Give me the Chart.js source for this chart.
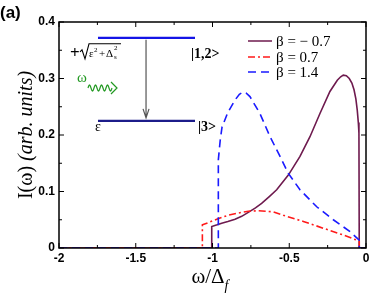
<!DOCTYPE html>
<html>
<head>
<meta charset="utf-8">
<script src="https://cdn.jsdelivr.net/npm/chart.js@4.4.0/dist/chart.umd.min.js"></script>
<style>
  html, body { margin: 0; padding: 0; background: #fff; }
  #wrap { width: 388px; height: 293px; }
</style>
</head>
<body>
<div id="wrap"><canvas id="spectrum" width="388" height="293"></canvas></div>
<script>
// beta = -0.7
const purpleX = [-2, -1.005, -1.005, -0.97, -0.94, -0.90, -0.853, -0.81, -0.767, -0.72, -0.68, -0.63, -0.582, -0.506, -0.43, -0.365, -0.30, -0.235, -0.187, -0.165, -0.148, -0.128, -0.109, -0.092, -0.078, -0.066, -0.057, -0.050, -0.046, -0.044, 0];
const purpleY = [0, 0, 0.038, 0.041, 0.044, 0.047, 0.051, 0.056, 0.063, 0.071, 0.079, 0.091, 0.103, 0.129, 0.162, 0.197, 0.238, 0.277, 0.297, 0.303, 0.306, 0.305, 0.300, 0.292, 0.280, 0.264, 0.244, 0.222, 0.203, 0, 0];
// beta = 0.7
const redX = [-2, -1.066, -1.066, -1.027, -0.96, -0.897, -0.83, -0.767, -0.70, -0.604, -0.539, -0.408, -0.278, -0.148, -0.061, -0.044, -0.044, 0];
const redY = [0, 0, 0.041, 0.045, 0.052, 0.058, 0.062, 0.065, 0.066, 0.064, 0.058, 0.047, 0.035, 0.023, 0.014, 0.012, 0, 0];
// beta = 1.4
const blueX = [-2, -0.962, -0.962, -0.95, -0.938, -0.90, -0.853, -0.825, -0.80, -0.78, -0.756, -0.691, -0.625, -0.560, -0.506, -0.43, -0.321, -0.213, -0.104, -0.044, -0.044, 0];
const blueY = [0, 0, 0.156, 0.190, 0.214, 0.240, 0.262, 0.272, 0.276, 0.274, 0.268, 0.238, 0.197, 0.162, 0.132, 0.103, 0.073, 0.050, 0.029, 0.014, 0, 0];

const seriesLabels = ['\u03b2 = \u2212 0.7', '\u03b2 = 0.7', '\u03b2 = 1.4'];
const xTicks = [-2, -1.5, -1, -0.5, 0];
const yTicks = [0, 0.1, 0.2, 0.3, 0.4];

const serif = '"Liberation Serif", "Times New Roman", serif';
const sans = '"Liberation Sans", Arial, sans-serif';

function toPoints(xs, ys) {
    return xs.map(function (x, i) { return { x: x, y: ys[i] }; });
}

const styles = [
    { color: '#6e1a4e', dash: [] },
    { color: '#ff1a1a', dash: [7, 3, 2, 3] },
    { color: '#1a1aff', dash: [8, 5] }
];

const decorations = {
    id: 'decorations',
    afterDraw: function (chart) {
        const ctx = chart.ctx;
        const a = chart.chartArea;
        const xs = chart.scales.x;
        const ys = chart.scales.y;
        ctx.save();

        // frame
        ctx.strokeStyle = '#000';
        ctx.lineWidth = 1.5;
        ctx.setLineDash([]);
        ctx.strokeRect(a.left, a.top, a.right - a.left, a.bottom - a.top);

        // inward ticks on all sides
        ctx.lineWidth = 1;
        ctx.beginPath();
        for (let v = -2; v <= 0.001; v += 0.25) {
            const px = xs.getPixelForValue(v);
            const len = Math.abs(v * 2 - Math.round(v * 2)) < 0.01 ? 5 : 3;
            ctx.moveTo(px, a.bottom); ctx.lineTo(px, a.bottom - len);
            ctx.moveTo(px, a.top); ctx.lineTo(px, a.top + len);
        }
        for (let i = 0; i <= 8; i++) {
            const py = ys.getPixelForValue(i * 0.05);
            const len = i % 2 === 0 ? 5 : 3;
            ctx.moveTo(a.left, py); ctx.lineTo(a.left + len, py);
            ctx.moveTo(a.right, py); ctx.lineTo(a.right - len, py);
        }
        ctx.stroke();

        // (a)
        ctx.fillStyle = '#000';
        ctx.font = 'bold 17px ' + sans;
        ctx.textBaseline = 'alphabetic';
        ctx.textAlign = 'left';
        ctx.fillText('(a)', 0, 18);

        // y title
        ctx.save();
        ctx.translate(32, 135);
        ctx.rotate(-Math.PI / 2);
        ctx.font = '20px ' + serif;
        const p1 = 'I(\u03c9) ';
        const w1 = ctx.measureText(p1).width;
        ctx.font = 'italic 20px ' + serif;
        const p2 = '(arb. units)';
        const w2 = ctx.measureText(p2).width;
        const sx = -(w1 + w2) / 2;
        ctx.font = '20px ' + serif;
        ctx.fillText(p1, sx, 0);
        ctx.font = 'italic 20px ' + serif;
        ctx.fillText(p2, sx + w1, 0);
        ctx.restore();

        // x title
        ctx.font = '21px ' + serif;
        const t1 = '\u03c9/\u0394';
        const tw = ctx.measureText(t1).width;
        const tx = 211 - (tw + 6) / 2;
        ctx.fillText(t1, tx, 283);
        ctx.font = 'italic 14px ' + serif;
        ctx.fillText('f', tx + tw, 290);

        // legend
        const legendX = 248;
        const legendY = [41, 57, 72];
        for (let i = 0; i < 3; i++) {
            ctx.strokeStyle = styles[i].color;
            ctx.lineWidth = 1.5;
            ctx.setLineDash(styles[i].dash);
            ctx.beginPath();
            ctx.moveTo(legendX, legendY[i]);
            ctx.lineTo(legendX + 24, legendY[i]);
            ctx.stroke();
            ctx.setLineDash([]);
            ctx.fillStyle = '#000';
            ctx.font = '15px ' + serif;
            ctx.textBaseline = 'middle';
            ctx.fillText(seriesLabels[i], legendX + 28, legendY[i] + 1);
        }
        ctx.textBaseline = 'alphabetic';

        // level scheme inset
        const lx1 = xs.getPixelForValue(-1.746);
        const lx2 = xs.getPixelForValue(-1.114);
        const upY = ys.getPixelForValue(0.372);
        const lowY = ys.getPixelForValue(0.225);
        ctx.lineWidth = 2.2;
        ctx.strokeStyle = '#1414e6';
        ctx.beginPath(); ctx.moveTo(lx1, upY); ctx.lineTo(lx2, upY); ctx.stroke();
        ctx.strokeStyle = '#1c1c8a';
        ctx.beginPath(); ctx.moveTo(lx1, lowY); ctx.lineTo(lx2, lowY); ctx.stroke();

        const ax = xs.getPixelForValue(-1.433);
        ctx.strokeStyle = '#555';
        ctx.lineWidth = 1.2;
        ctx.beginPath();
        ctx.moveTo(ax, upY + 2); ctx.lineTo(ax, lowY - 3);
        ctx.moveTo(ax - 3, lowY - 12); ctx.lineTo(ax, lowY - 3); ctx.lineTo(ax + 3, lowY - 12);
        ctx.stroke();

        ctx.fillStyle = '#000';
        ctx.font = 'bold 14px ' + serif;
        ctx.fillText('|1,2>', lx2 - 4, upY + 20);
        ctx.fillText('|3>', lx2 + 3, lowY + 10);
        ctx.font = '14px ' + serif;
        ctx.fillText('\u03b5', lx1 - 3, lowY + 10);

        // +sqrt(eps^2 + Delta_s^2)
        const rx = 70;
        const ry = upY + 20;
        ctx.font = 'bold 17px ' + serif;
        ctx.fillText('+', rx, ry);
        ctx.strokeStyle = '#000';
        ctx.lineWidth = 1.1;
        ctx.beginPath();
        ctx.moveTo(rx + 10, ry - 6);
        ctx.lineTo(rx + 12, ry - 8);
        ctx.lineTo(rx + 15, ry + 1);
        ctx.lineTo(rx + 19, ry - 14);
        ctx.lineTo(rx + 51, ry - 14);
        ctx.stroke();
        ctx.font = '11px ' + serif;
        ctx.fillText('\u03b5', rx + 19, ry - 1);
        ctx.font = '7px ' + serif;
        ctx.fillText('2', rx + 24, ry - 6);
        ctx.font = '11px ' + serif;
        ctx.fillText('+', rx + 29, ry - 1);
        ctx.fillText('\u0394', rx + 36, ry - 1);
        ctx.font = '7px ' + serif;
        ctx.fillText('2', rx + 44, ry - 8);
        ctx.fillText('s', rx + 44, ry + 1);

        // photon omega with wavy arrow
        ctx.fillStyle = '#229922';
        ctx.strokeStyle = '#229922';
        ctx.font = '15px ' + serif;
        ctx.fillText('\u03c9', 77, 82);
        ctx.lineWidth = 1.2;
        ctx.beginPath();
        for (let t = 0; t <= 24; t += 0.5) {
            const wx = 88 + t;
            const wy = 88 - 3 * Math.sin(t / 6 * 2 * Math.PI);
            if (t === 0) ctx.moveTo(wx, wy); else ctx.lineTo(wx, wy);
        }
        ctx.moveTo(111, 82); ctx.lineTo(117, 88); ctx.lineTo(111, 94);
        ctx.stroke();

        ctx.restore();
    }
};

function buildChart() {
    const ctx = document.getElementById('spectrum').getContext('2d');
    const allX = [purpleX, redX, blueX];
    const allY = [purpleY, redY, blueY];
    const datasets = [2, 1, 0].map(function (i) {
        return {
            label: seriesLabels[i],
            data: toPoints(allX[i], allY[i]),
            showLine: true,
            borderColor: styles[i].color,
            borderDash: styles[i].dash,
            borderWidth: 1.6,
            pointRadius: 0,
            tension: 0,
            fill: false
        };
    });

    new Chart(ctx, {
        type: 'scatter',
        data: { datasets: datasets },
        options: {
            responsive: false,
            animation: false,
            events: [],
            layout: { padding: { left: 0, top: 22, right: 22, bottom: 0 } },
            plugins: { legend: { display: false }, tooltip: { enabled: false } },
            scales: {
                x: {
                    type: 'linear',
                    min: -2,
                    max: 0,
                    afterFit: function (s) { s.height = 45; },
                    afterBuildTicks: function (s) { s.ticks = xTicks.map(function (v) { return { value: v }; }); },
                    grid: { display: false, drawTicks: false },
                    border: { display: false },
                    ticks: {
                        padding: 3,
                        color: '#000',
                        font: { family: sans, weight: 'bold', size: 12 },
                        maxRotation: 0,
                        callback: function (v) { return String(v); }
                    }
                },
                y: {
                    type: 'linear',
                    min: 0,
                    max: 0.4,
                    afterFit: function (s) { s.width = 59; },
                    afterBuildTicks: function (s) { s.ticks = yTicks.map(function (v) { return { value: v }; }); },
                    grid: { display: false, drawTicks: false },
                    border: { display: false },
                    ticks: {
                        padding: 4,
                        color: '#000',
                        font: { family: sans, weight: 'bold', size: 12 },
                        callback: function (v) { return v === 0 ? '0' : v.toFixed(1); }
                    }
                }
            }
        },
        plugins: [decorations]
    });
}

buildChart();
</script>
</body>
</html>
